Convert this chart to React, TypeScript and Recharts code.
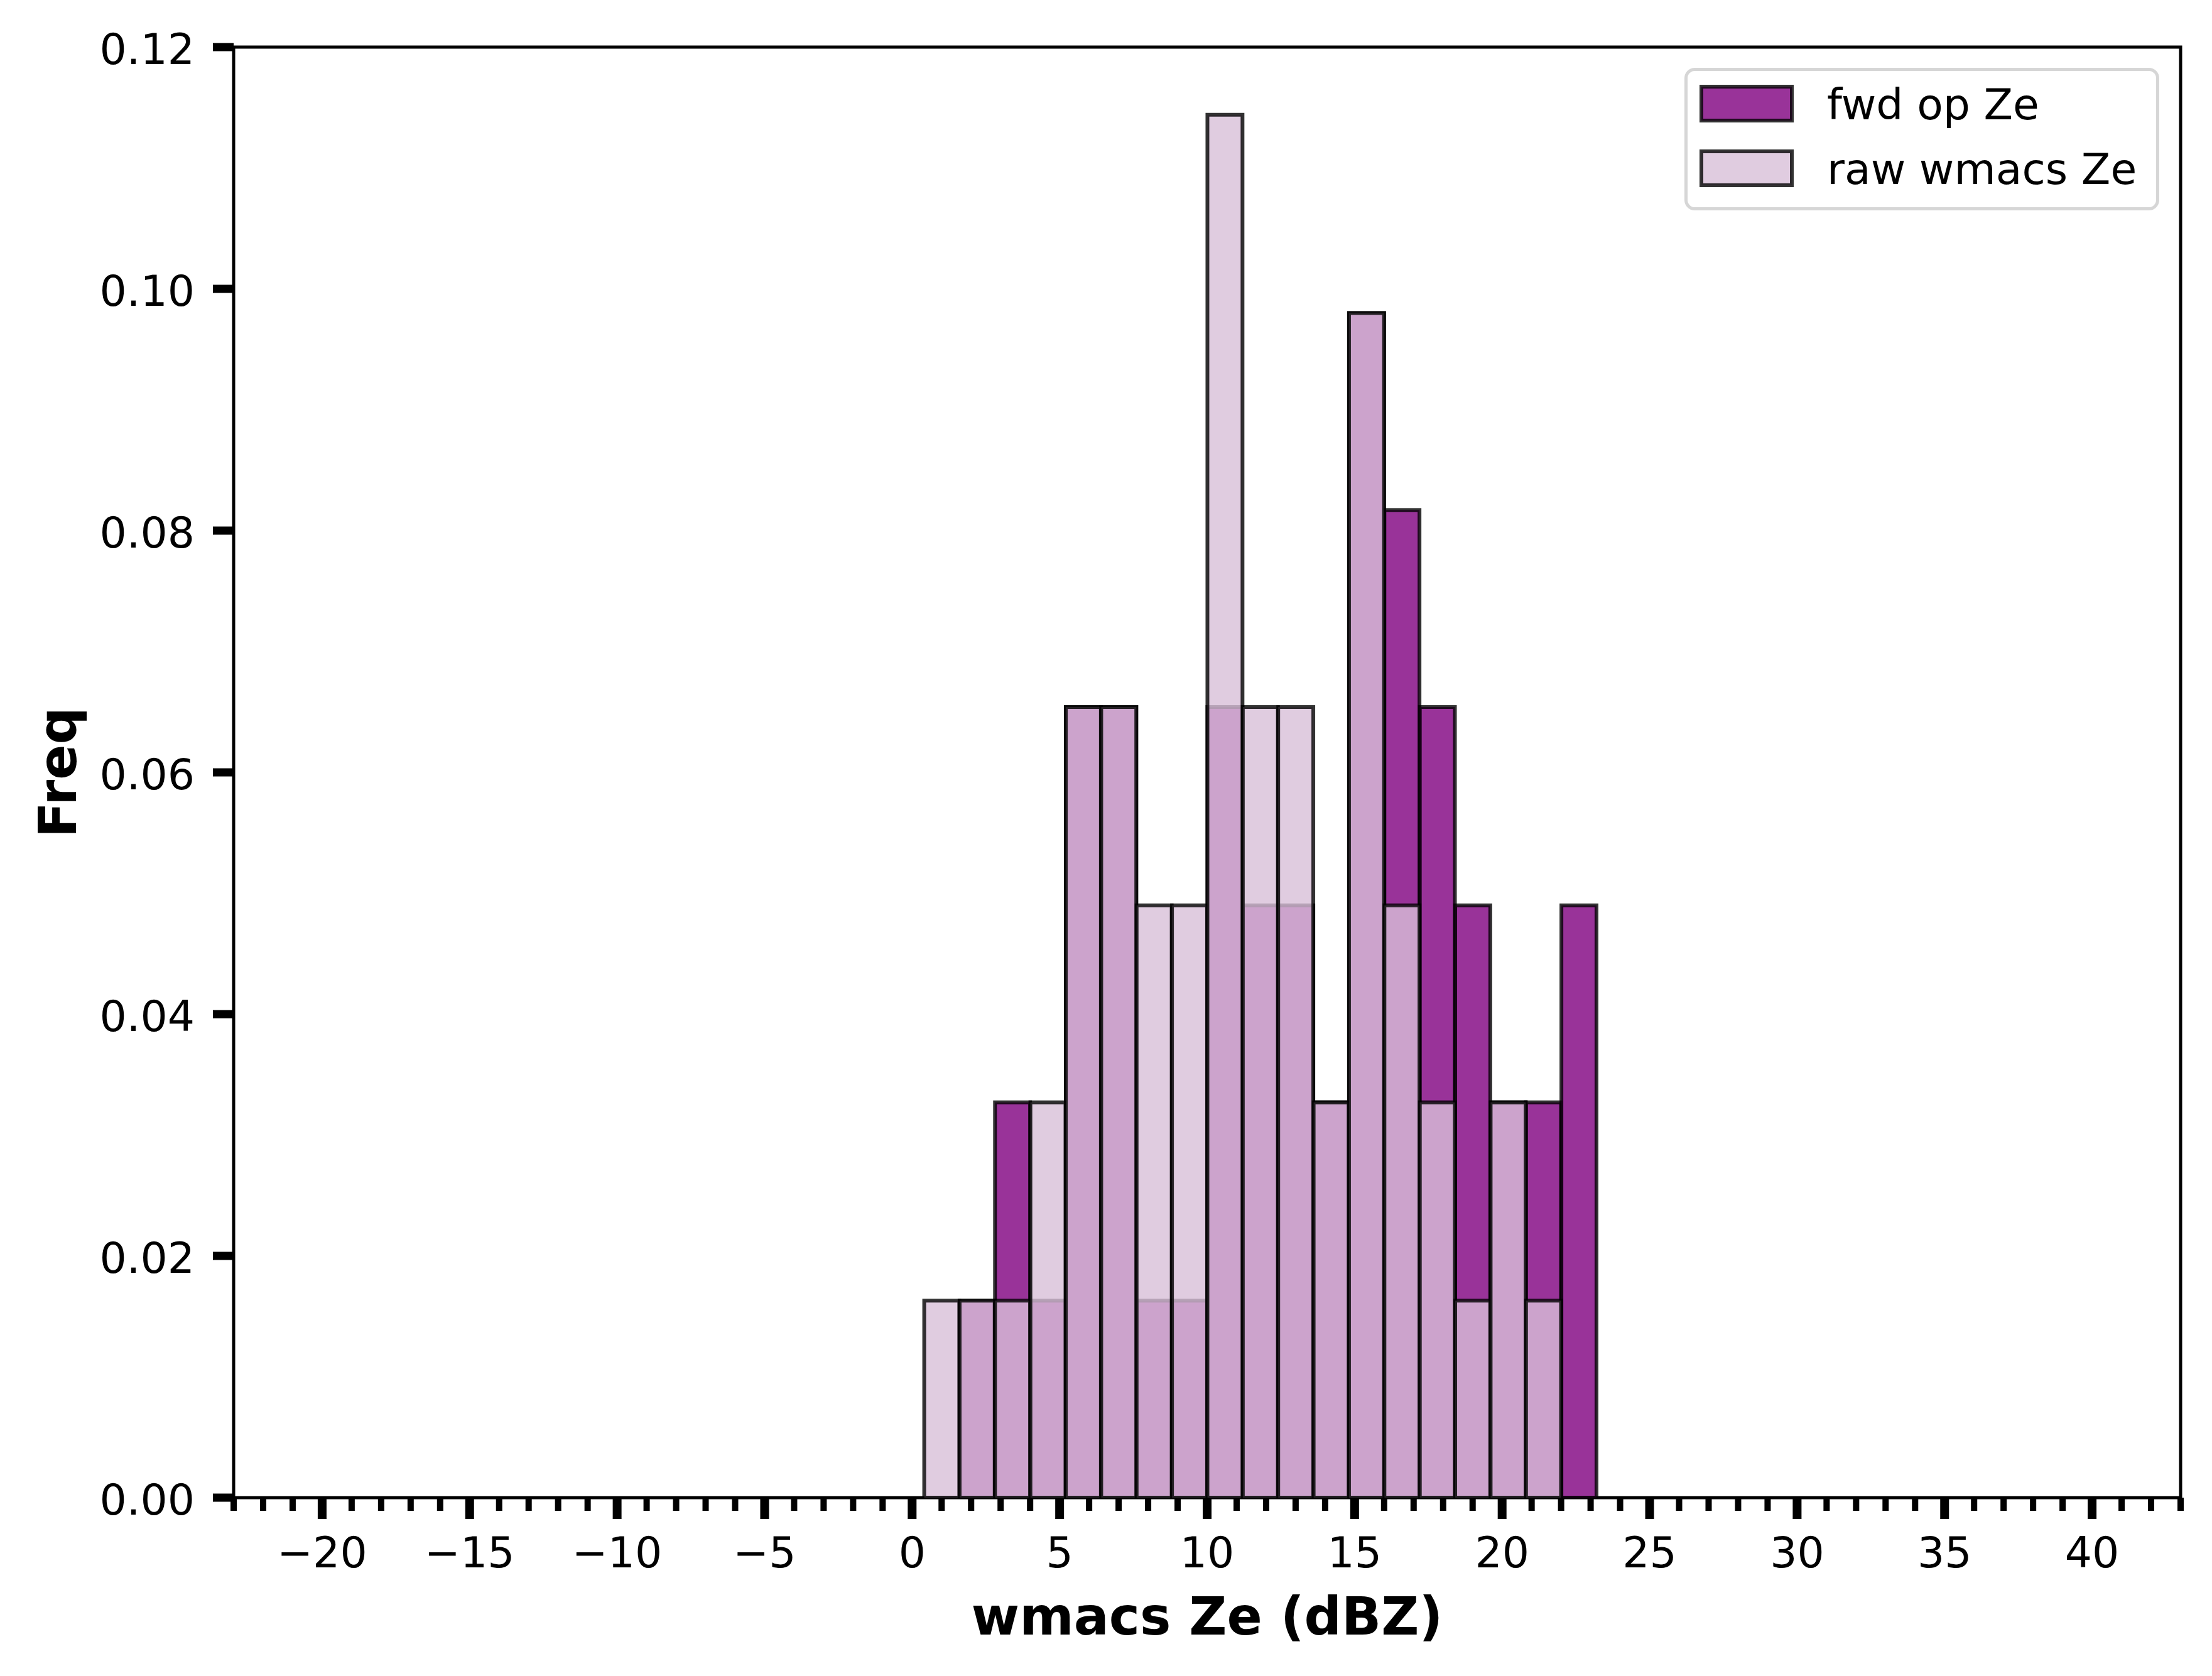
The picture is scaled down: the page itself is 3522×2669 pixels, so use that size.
import React from 'react';
import {
    ComposedChart,
    Bar,
    XAxis,
    YAxis,
    Legend,
    ReferenceArea,
} from 'recharts';

// histogram bins (centres, dBZ) and normalised frequencies
const binCenters = [1.01, 2.21, 3.41, 4.61, 5.81, 7.01, 8.21, 9.41, 10.61, 11.81, 13.01, 14.21, 15.41, 16.61, 17.81, 19.01, 20.21, 21.41, 22.61];
const fwdFreq = [0, 0.0163, 0.0327, 0.0163, 0.0654, 0.0654, 0.0163, 0.0163, 0.0654, 0.049, 0.049, 0.0327, 0.098, 0.0817, 0.0654, 0.049, 0.0327, 0.0327, 0.049];
const rawFreq = [0.0163, 0.0163, 0.0163, 0.0327, 0.0654, 0.0654, 0.049, 0.049, 0.1144, 0.0654, 0.0654, 0.0327, 0.098, 0.049, 0.0327, 0.0163, 0.0327, 0.0163, 0];
const binWidth = 1.2;

const seriesNames = ['fwd op Ze', 'raw wmacs Ze'];
const xDomain: [number, number] = [-23, 43];
const yDomain: [number, number] = [0, 0.12];
const xMajorTicks = [-20, -15, -10, -5, 0, 5, 10, 15, 20, 25, 30, 35, 40];
const yTicks = [0, 0.02, 0.04, 0.06, 0.08, 0.1, 0.12];

const data = binCenters.map((x, i) => ({ x, fwd: fwdFreq[i], raw: rawFreq[i] }));

// minor ticks every 1 dBZ across the axis range
const xAllTicks: number[] = [];
for (let v = xDomain[0]; v <= xDomain[1]; v++) xAllTicks.push(v);

const W = 3522;
const H = 2669;
const margin = { top: 75, right: 50, left: 0, bottom: 0 };
const yAxisWidth = 372;
const xAxisHeight = 284;
const plotWidth = W - margin.left - margin.right - yAxisWidth;
const barSize = (plotWidth / (xDomain[1] - xDomain[0])) * binWidth - 0.5;

const FONT = '"DejaVu Sans", sans-serif';
const TICK_SIZE = 68;
const LABEL_SIZE = 83;

const fwdStyle = { fill: 'purple', fillOpacity: 0.8, stroke: '#000', strokeOpacity: 0.8, strokeWidth: 6 };
const rawStyle = { fill: 'thistle', fillOpacity: 0.8, stroke: '#000', strokeOpacity: 0.8, strokeWidth: 6 };

const fmtX = (v: number) => (v < 0 ? `\u2212${Math.abs(v)}` : `${v}`);

const XTick = (props: any) => {
    const { x, y, payload } = props;
    const major = xMajorTicks.includes(payload.value);
    return (
        <g>
            <line x1={x} x2={x} y1={y} y2={y + (major ? 34 : 21)} stroke="#000" strokeWidth={major ? 14 : 10} />
            {major && (
                <text x={x} y={y + 111} textAnchor="middle" fontSize={TICK_SIZE} fontFamily={FONT} fill="#000">
                    {fmtX(payload.value)}
                </text>
            )}
        </g>
    );
};

const YTick = (props: any) => {
    const { x, y, payload } = props;
    return (
        <g>
            <line x1={x - 33} x2={x} y1={y} y2={y} stroke="#000" strokeWidth={13} />
            <text x={x - 62} y={y + 27} textAnchor="end" fontSize={TICK_SIZE} fontFamily={FONT} fill="#000">
                {Number(payload.value).toFixed(2)}
            </text>
        </g>
    );
};

const LegendBox = () => {
    const styles = [fwdStyle, rawStyle];
    return (
        <svg width={756} height={227} style={{ display: 'block' }}>
            <rect x={2.5} y={2.5} width={751} height={222} rx={14} fill="#fff" stroke="#d6d6d6" strokeWidth={5} />
            {seriesNames.map((name, i) => (
                <g key={name}>
                    <rect x={27} y={30 + i * 103} width={144} height={54} {...styles[i]} />
                    <text x={227} y={82 + i * 103} fontSize={TICK_SIZE} fontFamily={FONT} fill="#000">
                        {name}
                    </text>
                </g>
            ))}
        </svg>
    );
};

export default function App() {
    return (
        <div style={{ width: W, height: H, background: '#fff' }}>
            <style>{'body { margin: 0; }'}</style>
            <ComposedChart width={W} height={H} data={data} margin={margin}>
                <XAxis
                    xAxisId="main"
                    type="number"
                    dataKey="x"
                    domain={xDomain}
                    ticks={xAllTicks}
                    interval={0}
                    tick={<XTick />}
                    tickLine={false}
                    axisLine={false}
                    tickSize={0}
                    tickMargin={0}
                    height={xAxisHeight}
                    allowDataOverflow
                    label={{
                        content: ({ viewBox }: any) => (
                            <text
                                x={viewBox.x + viewBox.width / 2}
                                y={viewBox.y + 218}
                                textAnchor="middle"
                                fontSize={LABEL_SIZE}
                                fontWeight="bold"
                                fontFamily={FONT}
                                fill="#000"
                            >
                                wmacs Ze (dBZ)
                            </text>
                        ),
                    }}
                />
                <XAxis xAxisId="overlay" type="number" dataKey="x" domain={xDomain} hide allowDataOverflow />
                <YAxis
                    type="number"
                    domain={yDomain}
                    ticks={yTicks}
                    interval={0}
                    tick={<YTick />}
                    tickLine={false}
                    axisLine={false}
                    tickSize={0}
                    tickMargin={0}
                    width={yAxisWidth}
                    allowDataOverflow
                    label={{
                        content: ({ viewBox }: any) => {
                            const cx = viewBox.x + 121;
                            const cy = viewBox.y + viewBox.height / 2;
                            return (
                                <text
                                    x={cx}
                                    y={cy}
                                    transform={`rotate(-90 ${cx} ${cy})`}
                                    textAnchor="middle"
                                    fontSize={LABEL_SIZE}
                                    fontWeight="bold"
                                    fontFamily={FONT}
                                    fill="#000"
                                >
                                    Freq
                                </text>
                            );
                        },
                    }}
                />
                <Bar xAxisId="main" dataKey="fwd" name={seriesNames[0]} barSize={barSize} {...fwdStyle} isAnimationActive={false} />
                <Bar xAxisId="overlay" dataKey="raw" name={seriesNames[1]} barSize={barSize} {...rawStyle} isAnimationActive={false} />
                <ReferenceArea
                    xAxisId="main"
                    x1={xDomain[0]}
                    x2={xDomain[1]}
                    y1={yDomain[0]}
                    y2={yDomain[1]}
                    fill="none"
                    stroke="#000"
                    strokeWidth={5}
                    ifOverflow="visible"
                />
                <Legend
                    layout="vertical"
                    align="center"
                    verticalAlign="middle"
                    content={() => <LegendBox />}
                    wrapperStyle={{ position: 'absolute', left: 2682, top: 108, width: 756, height: 227 }}
                />
            </ComposedChart>
        </div>
    );
}
